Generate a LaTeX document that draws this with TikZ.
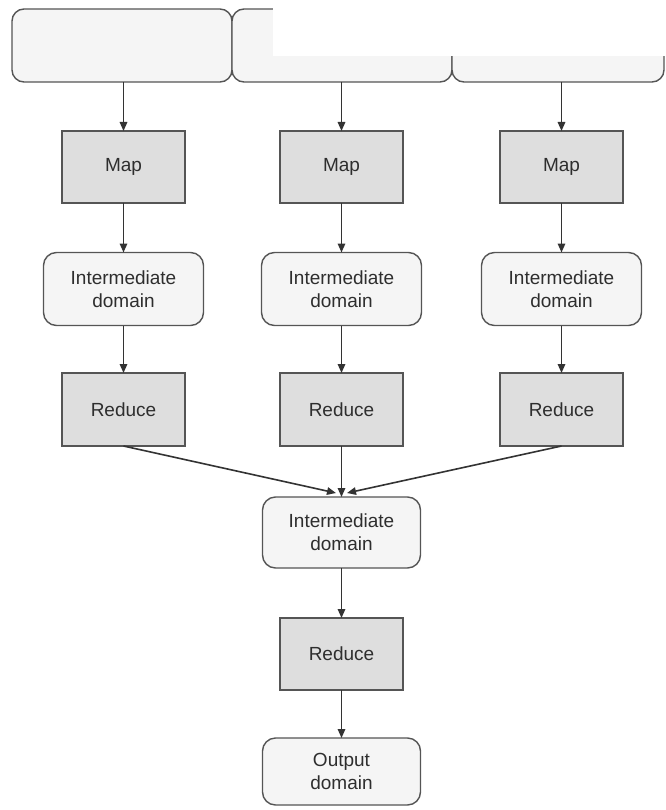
\documentclass[tikz,border=0pt]{standalone}
\usepackage{fontspec}
\setmainfont{Liberation Sans}
\usetikzlibrary{arrows.meta}
\definecolor{edgegray}{HTML}{555555}
\definecolor{linegray}{HTML}{333333}
\definecolor{opfill}{HTML}{DEDEDE}
\definecolor{datafill}{HTML}{F5F5F5}
\definecolor{textgray}{HTML}{2E2E2E}
\begin{document}
\begin{tikzpicture}[x=1pt,y=-1pt,
  every node/.style={inner sep=0pt,outer sep=0pt,align=center,text=textgray,
    font=\fontsize{19}{23}\selectfont},
  opbox/.style={draw=edgegray,fill=opfill,line width=1.4pt,
    minimum width=123pt,minimum height=72pt},
  databox/.style={draw=edgegray,fill=datafill,line width=1.4pt,rounded corners=13pt,
    minimum width=158pt,minimum height=73pt},
  splitbox/.style={draw=edgegray,fill=datafill,line width=1.4pt,rounded corners=12pt,
    minimum height=73pt},
  arr/.style={draw=linegray,line width=1.6pt,-{Triangle[length=9pt,width=7.5pt]}}
]
\useasboundingbox (0,0) rectangle (665,810);

% input splits along the top
\node[splitbox,minimum width=220pt] (in1) at (122,45.5) {};
\node[splitbox,minimum width=220pt] (in2) at (342,45.5) {};
\node[splitbox,minimum width=212pt] (in3) at (558,45.5) {};
\fill[white] (273,0) rectangle (665,56);

% map stage
\node[opbox] (map1) at (123.5,167) {Map};
\node[opbox] (map2) at (341.5,167) {Map};
\node[opbox] (map3) at (561.5,167) {Map};

% intermediate results of each map
\node[databox,minimum width=160pt] (mid1) at (123.5,289) {Intermediate\\domain};
\node[databox,minimum width=160pt] (mid2) at (341.5,289) {Intermediate\\domain};
\node[databox,minimum width=160pt] (mid3) at (561.5,289) {Intermediate\\domain};

% first reduce stage
\node[opbox,minimum height=73pt] (red1) at (123.5,409.5) {Reduce};
\node[opbox,minimum height=73pt] (red2) at (341.5,409.5) {Reduce};
\node[opbox,minimum height=73pt] (red3) at (561.5,409.5) {Reduce};

% merged intermediate domain, final reduce, output
\node[databox,minimum height=71pt] (merge) at (341.5,532.5) {Intermediate\\domain};
\node[opbox] (final) at (341.5,654) {Reduce};
\node[databox,minimum height=67pt] (out) at (341.5,771.5) {Output\\domain};

\coordinate (tipL) at (336,493);
\coordinate (tipR) at (347,493);

% connectors
\draw[arr] (map1 |- in1.south) -- (map1.north);
\draw[arr] (map2 |- in2.south) -- (map2.north);
\draw[arr] (map3 |- in3.south) -- (map3.north);
\draw[arr] (map1.south) -- (mid1.north);
\draw[arr] (map2.south) -- (mid2.north);
\draw[arr] (map3.south) -- (mid3.north);
\draw[arr] (mid1.south) -- (red1.north);
\draw[arr] (mid2.south) -- (red2.north);
\draw[arr] (mid3.south) -- (red3.north);
\draw[arr] (red1.south) -- (tipL);
\draw[arr] (red2.south) -- (merge.north);
\draw[arr] (red3.south) -- (tipR);
\draw[arr] (merge.south) -- (final.north);
\draw[arr] (final.south) -- (out.north);
\end{tikzpicture}
\end{document}
